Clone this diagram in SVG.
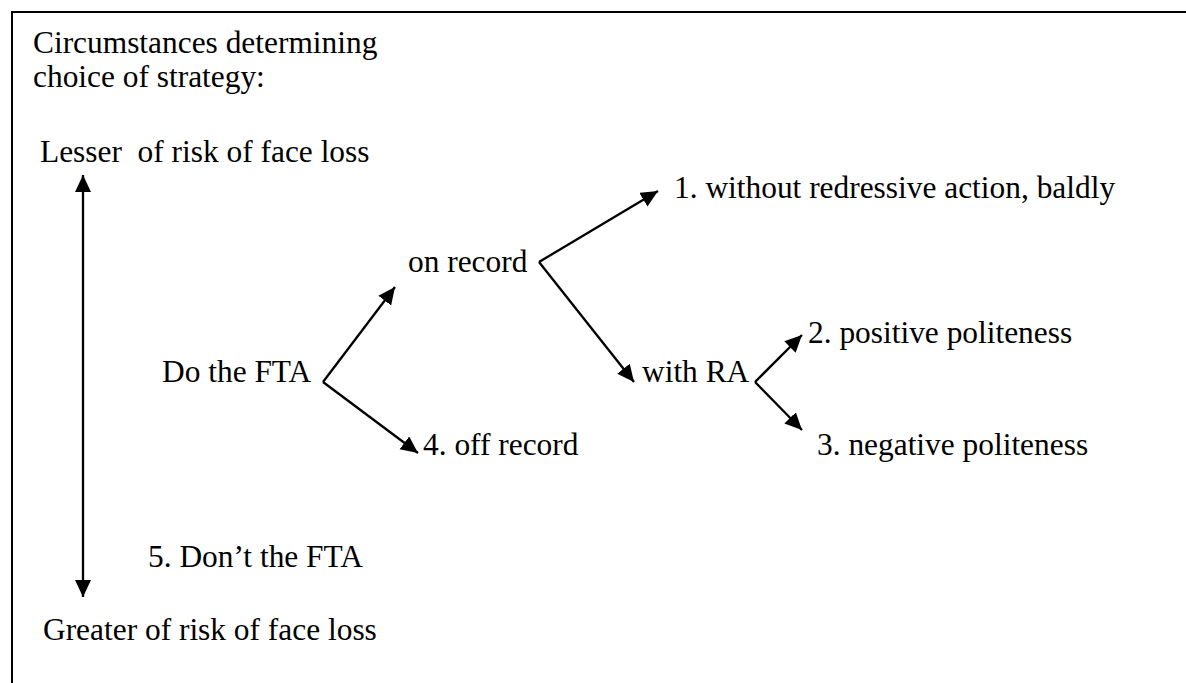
<svg xmlns="http://www.w3.org/2000/svg" width="1186" height="683" viewBox="0 0 1186 683">
<style>
text{font-family:"Liberation Serif","Times New Roman",serif;font-size:31.4px;fill:#000}
.c{stroke:#000;stroke-width:2.3;fill:none}
.b{stroke:#000;stroke-width:2;fill:none}
</style>
<defs>
<marker id="ah" markerUnits="userSpaceOnUse" markerWidth="19" markerHeight="17" refX="17" refY="8" orient="auto-start-reverse" viewBox="0 0 19 17">
<path d="M0,0 L17,8 L0,16 z" fill="#000"/>
</marker>
</defs>
<rect width="1186" height="683" fill="#fff"/>
<g id="frame">
<path class="b" d="M12,683 L12,12 L1186,12"/>
</g>
<g id="title"><text x="33" y="53">Circumstances determining</text><text x="33" y="87">choice of strategy:</text></g>
<g id="lesser"><text x="40" y="162" xml:space="preserve">Lesser  of risk of face loss</text></g>
<g id="greater"><text x="43" y="640">Greater of risk of face loss</text></g>
<g id="do-fta"><text x="162" y="382">Do the FTA</text></g>
<g id="on-record"><text x="408" y="272">on record</text></g>
<g id="off-record"><text x="423" y="455">4. off record</text></g>
<g id="without"><text x="674" y="198">1. without redressive action, baldly</text></g>
<g id="with-ra"><text x="642" y="382">with RA</text></g>
<g id="positive"><text x="808" y="343">2. positive politeness</text></g>
<g id="negative"><text x="817" y="455">3. negative politeness</text></g>
<g id="dont"><text x="148" y="567">5. Don’t the FTA</text></g>
<g id="connectors">
<line class="c" x1="83" y1="175" x2="83" y2="597" marker-start="url(#ah)" marker-end="url(#ah)"/>
<line class="c" x1="323" y1="382" x2="395" y2="287" marker-end="url(#ah)"/>
<line class="c" x1="323" y1="382" x2="418" y2="453" marker-end="url(#ah)"/>
<line class="c" x1="539" y1="262" x2="658" y2="191" marker-end="url(#ah)"/>
<line class="c" x1="539" y1="262" x2="634" y2="382" marker-end="url(#ah)"/>
<line class="c" x1="755" y1="382" x2="802" y2="335" marker-end="url(#ah)"/>
<line class="c" x1="755" y1="382" x2="802" y2="430" marker-end="url(#ah)"/>
</g>
</svg>
